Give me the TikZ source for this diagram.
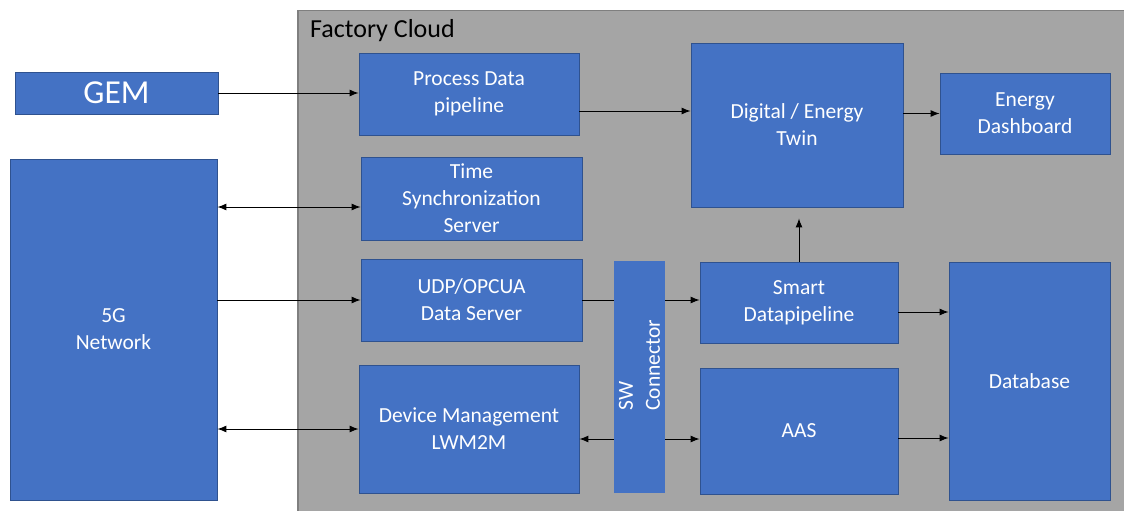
\documentclass[tikz,border=0pt]{standalone}
\usepackage{fontspec}
\setmainfont{Carlito}
\usetikzlibrary{arrows.meta,positioning}
\definecolor{boxblue}{HTML}{4472C4}
\definecolor{boxedge}{HTML}{2F528F}
\definecolor{cloudgray}{HTML}{A5A5A5}
\definecolor{cloudedge}{HTML}{7F7F7F}
\tikzset{
  block/.style={draw=boxedge, line width=0.8pt, fill=boxblue, text=white, align=center, inner sep=0pt, font=\fontsize{21.5}{27}\selectfont},
  arr/.style={-{Latex[length=9pt,width=7pt]}, line width=1pt},
  biarr/.style={{Latex[length=9pt,width=7pt]}-{Latex[length=9pt,width=7pt]}, line width=1pt},
}

\begin{document}
\begin{tikzpicture}[x=1pt,y=-1pt]
\useasboundingbox (0,0) rectangle (1124,511);
% cloud frame
\node[draw=cloudedge, fill=cloudgray, line width=1.5pt, anchor=north west, minimum width=840pt, minimum height=520pt, inner sep=0pt] (cloud) at (297,10) {};
\node[anchor=north west, inner sep=0pt, font=\fontsize{26}{30}\selectfont] (cloudlabel) at (310,19) {Factory Cloud};

% outside
\node[block, minimum width=203pt, minimum height=42pt, font=\fontsize{33.5}{38}\selectfont] (gem) at (116.5,93) {GEM};
\node[block, minimum width=207pt, minimum height=341pt] (fiveg) at (113.5,329.5) {5G\\Network};

% left column
\node[block, minimum width=220pt, minimum height=82pt] (proc) at (469,94) {Process Data\\pipeline};
\node[block, minimum width=221pt, minimum height=83pt] (tsync) at (471.5,198.5) {Time\\Synchronization\\Server};
\node[block, minimum width=221pt, minimum height=82pt] (udp) at (471.5,300) {UDP/OPCUA\\Data Server};
\node[block, minimum width=220pt, minimum height=128pt] (devmgmt) at (469,429) {Device Management\\LWM2M};

% right part
\node[block, minimum width=212pt, minimum height=164pt] (twin) at (797,125) {Digital / Energy\\Twin};
\node[block, minimum width=170pt, minimum height=81pt] (dash) at (1025,113.5) {Energy\\Dashboard};
\node[block, minimum width=198pt, minimum height=81pt] (smart) at (799,302.5) {Smart\\Datapipeline};
\node[block, minimum width=198pt, minimum height=126pt] (aas) at (799,431) {AAS};
\node[block, minimum width=161pt, minimum height=238pt] (db) at (1029.5,381) {Database};

% connectors
\draw[arr] (gem) -- (gem -| proc.west);
\draw[arr] ([yshift=-17pt]proc.east) -- ([yshift=14pt]twin.west);
\draw[arr] (twin.east |- dash) -- (dash);
\draw[biarr] ([yshift=-8.5pt]tsync.west -| fiveg.east) -- ([yshift=-8.5pt]tsync.west);
\draw[arr] (udp.west -| fiveg.east) -- (udp.west);
\draw[biarr] (devmgmt.west -| fiveg.east) -- (devmgmt.west);
\draw[arr] (udp.east) -- (udp.east -| smart.west);
\draw[biarr] ([yshift=-10pt]devmgmt.east) -- ([yshift=-10pt]devmgmt.east -| aas.west);
\draw[arr, shorten >=11pt] (smart.north) -- (smart.north |- twin.south);
\draw[arr] ([yshift=-9.5pt]smart.east) -- ([yshift=-9.5pt]smart.east -| db.west);
\draw[arr] ([yshift=-7pt]aas.east) -- ([yshift=-7pt]aas.east -| db.west);

% connector bar on top of the lines
\node[block, draw=none, rotate=90, minimum width=232pt, minimum height=51pt, align=left] (sw) at (639.5,377) {\hspace*{24pt}SW\\\hspace*{24pt}Connector};
\end{tikzpicture}
\end{document}
